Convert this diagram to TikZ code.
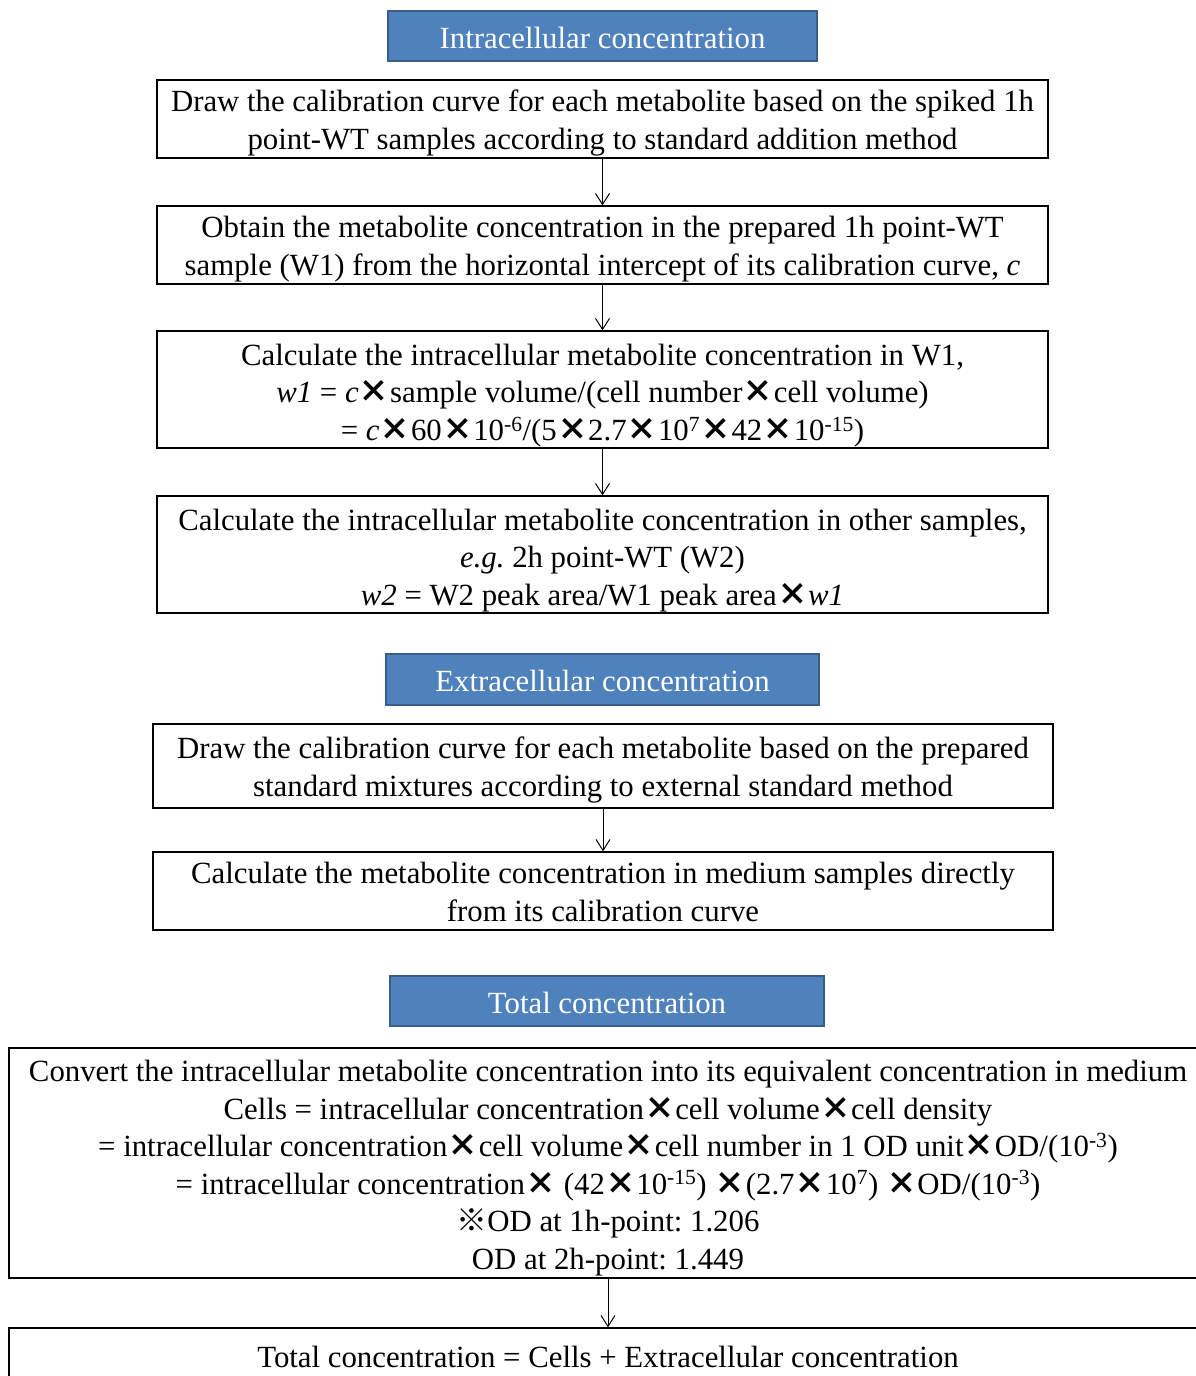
\documentclass[tikz,border=0pt]{standalone}
\usepackage{fontspec}
\setmainfont{Liberation Serif}
\newfontfamily\cjkfont{Noto Sans CJK JP}
\usetikzlibrary{arrows.meta}
\frenchspacing
\definecolor{hdrblue}{HTML}{4F81BD}
\definecolor{hdrline}{HTML}{385D8A}
\newcommand{\tms}{\hspace{0.01em}{\cjkfont\bfseries ×}\hspace{0.01em}}
\newcommand{\ex}[1]{\textsuperscript{#1}}
\tikzset{
  hdr/.style={draw=hdrline,line width=1.5pt,fill=hdrblue,text=white,inner sep=0pt,
    font=\fontsize{30.8}{33}\selectfont,execute at begin node={\rule{0pt}{25pt}}},
  stepbox/.style={draw,line width=1.3pt,align=center,inner sep=0pt,
    font=\fontsize{30.8}{37.5}\selectfont},
  twolines/.style={text height=60.5pt,text depth=0pt},
  threelines/.style={text height=101.5pt,text depth=0pt},
  sixlines/.style={text height=212pt,text depth=0pt},
}
\begin{document}
\begin{tikzpicture}[x=1pt,y=1pt,>={Straight Barb[length=11pt,width=14pt]}]
  \useasboundingbox (0,0) rectangle (1195,-1376);
  \node[hdr,minimum width=429pt,minimum height=50pt] (hdrIntra) at (602.5,-36) {Intracellular concentration};
  \node[stepbox,twolines,minimum width=891pt,minimum height=78pt] (calA) at (602.5,-119)
    {Draw the calibration curve for each metabolite based on the spiked 1h\\point-WT samples according to standard addition method};
  \node[stepbox,twolines,minimum width=891pt,minimum height=78pt] (calB) at (602.5,-245)
    {Obtain the metabolite concentration in the prepared 1h point-WT\\sample (W1) from the horizontal intercept of its calibration curve, \textit{c}};
  \node[stepbox,threelines,minimum width=891pt,minimum height=117pt] (calC) at (602.5,-389.5)
    {Calculate the intracellular metabolite concentration in W1,\\
     \textit{w1} = \textit{c}\tms sample volume/(cell number\tms cell volume)\\
     = \textit{c}\tms 60\tms 10\ex{-6}/(5\tms 2.7\tms 10\ex{7}\tms 42\tms 10\ex{-15})};
  \node[stepbox,threelines,minimum width=891pt,minimum height=117pt] (calD) at (602.5,-554.5)
    {Calculate the intracellular metabolite concentration in other samples,\\
     \textit{e.g.} 2h point-WT (W2)\\
     \textit{w2} = W2 peak area/W1 peak area\tms\textit{w1}};
  \draw[->,line width=1pt] (calA) -- (calB);
  \draw[->,line width=1pt] (calB) -- (calC);
  \draw[->,line width=1pt] (calC) -- (calD);

  \node[hdr,minimum width=433pt,minimum height=51pt] (hdrExtra) at (602.5,-679.5) {Extracellular concentration};
  \node[stepbox,twolines,minimum width=900pt,minimum height=84pt] (extA) at (603,-766)
    {Draw the calibration curve for each metabolite based on the prepared\\standard mixtures according to external standard method};
  \node[stepbox,twolines,minimum width=900pt,minimum height=78pt] (extB) at (603,-891)
    {Calculate the metabolite concentration in medium samples directly\\from its calibration curve};
  \draw[->,line width=1pt] (extA) -- (extB);

  \node[hdr,minimum width=434pt,minimum height=50pt] (hdrTotal) at (607,-1001) {Total concentration};
  \node[stepbox,sixlines,minimum width=1198pt,minimum height=230pt] (totA) at (608,-1163)
    {Convert the intracellular metabolite concentration into its equivalent concentration in medium\\
     Cells = intracellular concentration\tms cell volume\tms cell density\\
     = intracellular concentration\tms cell volume\tms cell number in 1 OD unit\tms OD/(10\ex{-3})\\
     = intracellular concentration\tms\ (42\tms 10\ex{-15})\ \tms(2.7\tms 10\ex{7})\ \tms OD/(10\ex{-3})\\
     {\cjkfont ※}OD at 1h-point: 1.206\\
     OD at 2h-point: 1.449};
  \node[stepbox,minimum width=1198pt,minimum height=58pt] (totB) at (608,-1357)
    {Total concentration = Cells + Extracellular concentration};
  \draw[->,line width=1pt] (totA) -- (totB);
\end{tikzpicture}
\end{document}
